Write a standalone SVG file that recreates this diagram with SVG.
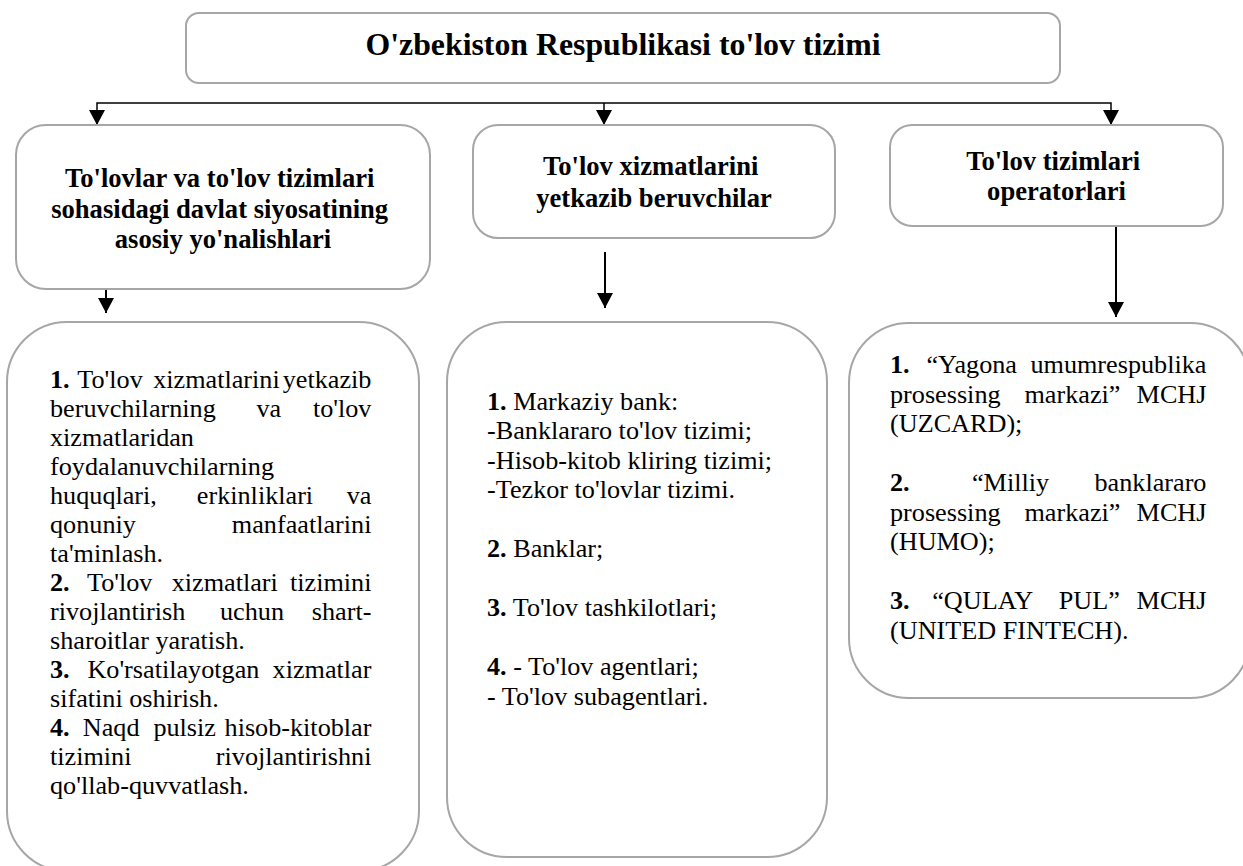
<svg xmlns="http://www.w3.org/2000/svg" width="1243" height="866" viewBox="0 0 1243 866" font-family="Liberation Serif, Times New Roman, serif">
  <style>
    .box { fill: #ffffff; stroke: #a6a6a6; stroke-width: 2; }
    .title { font-weight: bold; fill: #000; text-anchor: middle; }
    .body { font-size: 26.2px; fill: #000; }
    .num { font-weight: bold; }
    .end { text-anchor: end; }
    .wire { fill: none; stroke: #000; }
  </style>
  <defs>
    <marker id="arrow" markerUnits="userSpaceOnUse" markerWidth="17" markerHeight="17" refX="15" refY="8" orient="auto-start-reverse">
      <path d="M0,0 L15,8 L0,16 z" fill="#000"/>
    </marker>
  </defs>

  <rect width="1243" height="866" fill="#ffffff"/>

  <!-- connectors -->
  <g id="connectors">
    <path class="wire" stroke-width="1.5" d="M97,125 V103 H1111 V125" marker-start="url(#arrow)" marker-end="url(#arrow)"/>
    <path class="wire" stroke-width="1.5" d="M604,103 V125" marker-end="url(#arrow)"/>
    <path class="wire" stroke-width="2" d="M106,290 V313" marker-end="url(#arrow)"/>
    <path class="wire" stroke-width="2" d="M605,252 V308" marker-end="url(#arrow)"/>
    <path class="wire" stroke-width="2" d="M1116,226 V317" marker-end="url(#arrow)"/>
  </g>

  <!-- root -->
  <g id="root">
    <rect class="box" x="186" y="13" width="874" height="70" rx="13"/>
    <text class="title" x="623" y="55" font-size="31.8">O'zbekiston Respublikasi to'lov tizimi</text>
  </g>

  <!-- category headers -->
  <g id="policy">
    <rect class="box" x="16" y="125" width="414" height="164" rx="30"/>
    <text class="title" font-size="26.6">
      <tspan x="223" y="187">To'lovlar va to'lov tizimlari</tspan>
      <tspan x="223" y="217.5">sohasidagi davlat siyosatining</tspan>
      <tspan x="223" y="248">asosiy yo'nalishlari</tspan>
    </text>
  </g>

  <g id="providers">
    <rect class="box" x="473" y="125" width="362" height="113" rx="25"/>
    <text class="title" font-size="26.6">
      <tspan x="654" y="175">To'lov xizmatlarini</tspan>
      <tspan x="654" y="207">yetkazib beruvchilar</tspan>
    </text>
  </g>

  <g id="operators">
    <rect class="box" x="890" y="125" width="333" height="101" rx="22"/>
    <text class="title" font-size="26.6">
      <tspan x="1056.5" y="170">To'lov tizimlari</tspan>
      <tspan x="1056.5" y="200">operatorlari</tspan>
    </text>
  </g>

  <!-- detail lists -->
  <g id="policy-list">
    <rect class="box" x="7" y="322" width="412" height="549" rx="60"/>
    <text class="body">
      <tspan x="50" y="388.3" class="num">1.</tspan><tspan x="77.3" y="388.3">To'lov</tspan><tspan x="153.2" y="388.3">xizmatlarini</tspan><tspan x="378" y="388.3" class="end">yetkazib</tspan>
      <tspan x="50" y="417.3">beruvchilarning</tspan><tspan x="256.5" y="417.3">va</tspan><tspan x="378" y="417.3" class="end">to'lov</tspan>
      <tspan x="50" y="446.3">xizmatlaridan</tspan>
      <tspan x="50" y="475.3">foydalanuvchilarning</tspan>
      <tspan x="50" y="504.3">huquqlari,</tspan><tspan x="196.8" y="504.3">erkinliklari</tspan><tspan x="378" y="504.3" class="end">va</tspan>
      <tspan x="50" y="533.3">qonuniy</tspan><tspan x="378" y="533.3" class="end">manfaatlarini</tspan>
      <tspan x="50" y="562.3">ta'minlash.</tspan>
      <tspan x="50" y="591.3" class="num">2.</tspan><tspan x="87" y="591.3">To'lov</tspan><tspan x="171.7" y="591.3">xizmatlari</tspan><tspan x="378" y="591.3" class="end">tizimini</tspan>
      <tspan x="50" y="620.3">rivojlantirish</tspan><tspan x="220" y="620.3">uchun</tspan><tspan x="378" y="620.3" class="end">shart-</tspan>
      <tspan x="50" y="649.3">sharoitlar yaratish.</tspan>
      <tspan x="50" y="678.3" class="num">3.</tspan><tspan x="87.4" y="678.3">Ko'rsatilayotgan</tspan><tspan x="378" y="678.3" class="end">xizmatlar</tspan>
      <tspan x="50" y="707.3">sifatini oshirish.</tspan>
      <tspan x="50" y="736.3" class="num">4.</tspan><tspan x="82.8" y="736.3">Naqd</tspan><tspan x="153.4" y="736.3">pulsiz</tspan><tspan x="378" y="736.3" class="end">hisob-kitoblar</tspan>
      <tspan x="50" y="765.3">tizimini</tspan><tspan x="378" y="765.3" class="end">rivojlantirishni</tspan>
      <tspan x="50" y="794.3">qo'llab-quvvatlash.</tspan>
    </text>
  </g>

  <g id="providers-list">
    <rect class="box" x="447" y="322" width="380" height="535" rx="60"/>
    <text class="body">
      <tspan x="487" y="409.5"><tspan class="num">1.</tspan> Markaziy bank:</tspan>
      <tspan x="487" y="439">-Banklararo to'lov tizimi;</tspan>
      <tspan x="487" y="468.5">-Hisob-kitob kliring tizimi;</tspan>
      <tspan x="487" y="498">-Tezkor to'lovlar tizimi.</tspan>
      <tspan x="487" y="557"><tspan class="num">2.</tspan> Banklar;</tspan>
      <tspan x="487" y="616"><tspan class="num">3.</tspan> To'lov tashkilotlari;</tspan>
      <tspan x="487" y="675"><tspan class="num">4.</tspan> - To'lov agentlari;</tspan>
      <tspan x="487" y="704.5">- To'lov subagentlari.</tspan>
    </text>
  </g>

  <g id="operators-list">
    <rect class="box" x="849" y="323" width="401" height="375" rx="60"/>
    <text class="body">
      <tspan x="890" y="373" class="num">1.</tspan><tspan x="926.5" y="373">“Yagona</tspan><tspan x="1213" y="373" class="end">umumrespublika</tspan>
      <tspan x="890" y="402.5">prosessing</tspan><tspan x="1024.5" y="402.5">markazi”</tspan><tspan x="1213" y="402.5" class="end">MCHJ</tspan>
      <tspan x="890" y="432">(UZCARD);</tspan>
      <tspan x="890" y="491" class="num">2.</tspan><tspan x="972" y="491">“Milliy</tspan><tspan x="1213" y="491" class="end">banklararo</tspan>
      <tspan x="890" y="520.5">prosessing</tspan><tspan x="1024.5" y="520.5">markazi”</tspan><tspan x="1213" y="520.5" class="end">MCHJ</tspan>
      <tspan x="890" y="550">(HUMO);</tspan>
      <tspan x="890" y="609" class="num">3.</tspan><tspan x="932.2" y="609">“QULAY</tspan><tspan x="1058.7" y="609">PUL”</tspan><tspan x="1213" y="609" class="end">MCHJ</tspan>
      <tspan x="890" y="638.5">(UNITED FINTECH).</tspan>
    </text>
  </g>
</svg>
